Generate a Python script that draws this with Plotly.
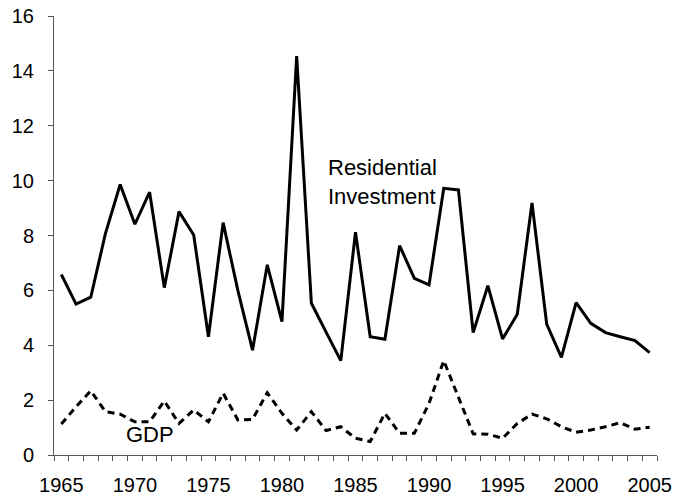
import plotly.graph_objects as go

years = list(range(1965, 2006))
residential = [6.58, 5.50, 5.75, 8.08, 9.86, 8.41, 9.58, 6.10, 8.87, 8.02,
               4.31, 8.47, 6.00, 3.82, 6.93, 4.86, 14.54, 5.53, 4.48, 3.44,
               8.12, 4.31, 4.22, 7.63, 6.44, 6.20, 9.72, 9.66, 4.46, 6.17,
               4.23, 5.13, 9.19, 4.77, 3.56, 5.55, 4.80, 4.46, 4.31, 4.17, 3.73]
gdp = [1.13, 1.76, 2.34, 1.58, 1.49, 1.21, 1.21, 1.97, 1.15, 1.64,
       1.21, 2.25, 1.28, 1.30, 2.27, 1.52, 0.91, 1.58, 0.89, 1.03,
       0.61, 0.49, 1.52, 0.79, 0.79, 1.88, 3.44, 2.13, 0.77, 0.76,
       0.61, 1.15, 1.49, 1.32, 1.03, 0.83, 0.91, 1.03, 1.18, 0.94, 1.01]
label_years = [1965, 1970, 1975, 1980, 1985, 1990, 1995, 2000, 2005]
y_ticks = [0, 2, 4, 6, 8, 10, 12, 14, 16]

FONT = "Arial, Liberation Sans, sans-serif"

fig = go.Figure()
fig.add_trace(go.Scatter(x=years, y=residential, mode="lines",
                         line=dict(color="black", width=3),
                         name="Residential Investment"))
fig.add_trace(go.Scatter(x=years, y=gdp, mode="lines",
                         line=dict(color="black", width=3, dash="7px,5px"),
                         name="GDP"))

fig.add_annotation(x=1983.0, y=9.95, xref="x", yref="y",
                   text="Residential<br>Investment", showarrow=False,
                   xanchor="left", yanchor="middle", align="left",
                   font=dict(family=FONT, size=22, color="black"))
fig.add_annotation(x=1971.0, y=0.75, xref="x", yref="y",
                   text="GDP", showarrow=False,
                   xanchor="center", yanchor="middle",
                   font=dict(family=FONT, size=22, color="black"))

fig.update_layout(
    width=675, height=499,
    margin=dict(l=54, r=18, t=16, b=44),
    paper_bgcolor="white", plot_bgcolor="white",
    showlegend=False,
    font=dict(family=FONT, size=20, color="black"),
)
fig.update_xaxes(
    range=[1964.5, 2005.5], automargin=False,
    tickvals=label_years, ticktext=[str(y) for y in label_years],
    ticks="", showgrid=False, zeroline=False,
    showline=True, linecolor="#555", linewidth=1,
    ticklabelstandoff=12, ticklabeloverflow="allow",
    minor=dict(tick0=1964.5, dtick=1, ticks="outside", ticklen=5,
               tickcolor="#555", tickwidth=1, showgrid=False),
)
fig.update_yaxes(
    range=[0, 16], tickvals=y_ticks, automargin=False,
    ticks="outside", ticklen=5, tickcolor="#555", tickwidth=1,
    showgrid=False, zeroline=False,
    showline=True, linecolor="#555", linewidth=1,
    ticklabelstandoff=10, ticklabeloverflow="allow",
)

fig.write_html(
    "out.html",
    config={"displayModeBar": False},
    post_script="document.body.style.margin='0';document.body.style.overflow='hidden';",
)
